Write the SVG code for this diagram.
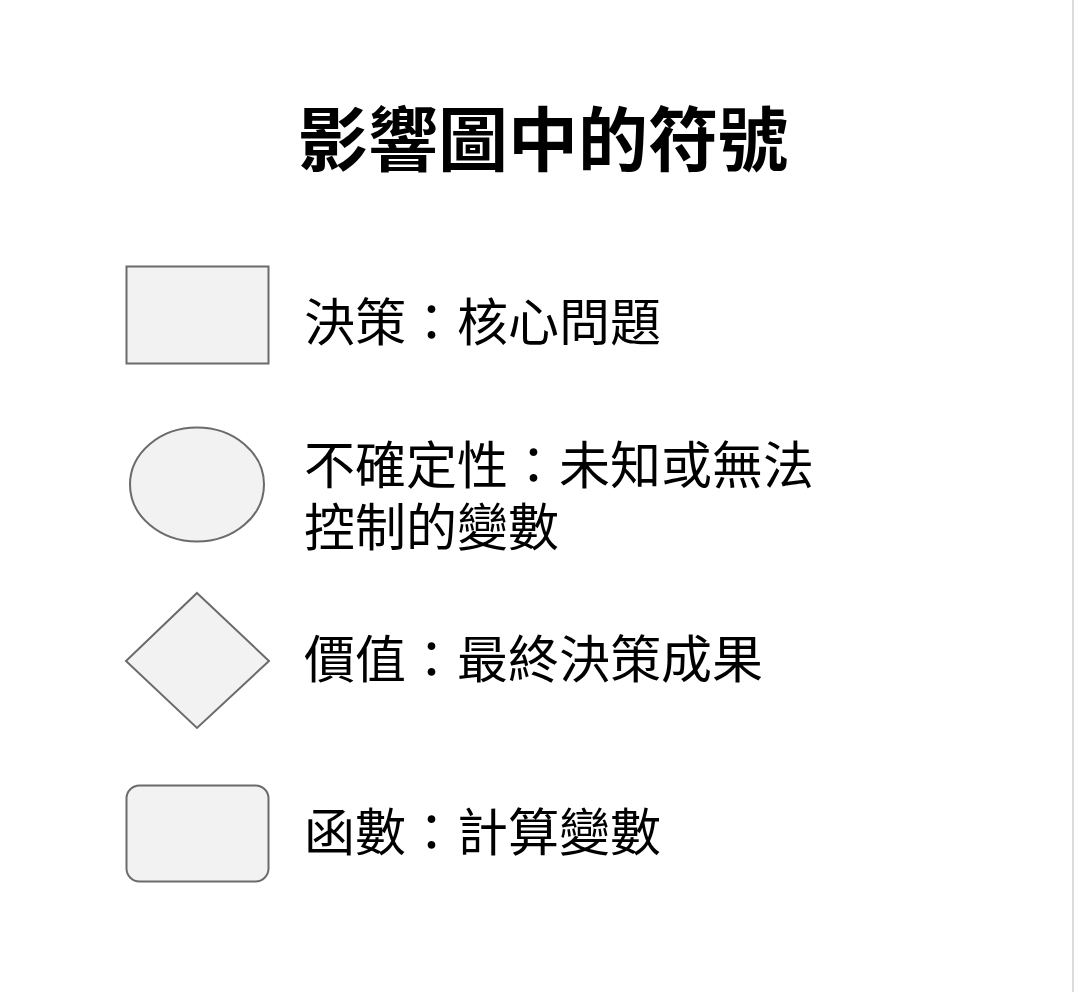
<svg xmlns="http://www.w3.org/2000/svg" width="1074" height="992" viewBox="0 0 1074 992">
  <style>
    .shape { fill: #f2f2f2; stroke: #6b6b6b; stroke-width: 2; }
    .label { font-family: "Noto Sans CJK TC", "Noto Sans CJK SC", sans-serif; font-size: 51px; fill: #000; }
    .title { font-family: "Noto Sans CJK TC", "Noto Sans CJK SC", sans-serif; font-size: 70px; font-weight: bold; fill: #000; }
  </style>
  <rect x="0" y="0" width="1074" height="992" fill="#ffffff"/>
  <line x1="1073" y1="0" x2="1073" y2="992" stroke="#dcdcdc" stroke-width="2"/>
  <g id="title">
    <text class="title" x="543" y="166" text-anchor="middle">影響圖中的符號</text>
  </g>
  <g id="decision">
    <rect class="shape" x="126.5" y="266.5" width="142" height="97"/>
    <text class="label" x="304" y="341">決策：核心問題</text>
  </g>
  <g id="uncertainty">
    <ellipse class="shape" cx="197" cy="484.5" rx="67" ry="57"/>
    <text class="label" x="304" y="484">不確定性：未知或無法<tspan x="304" y="546">控制的變數</tspan></text>
  </g>
  <g id="value">
    <polygon class="shape" points="197,593 269,661 197,728 126,661"/>
    <text class="label" x="304" y="678">價值：最終決策成果</text>
  </g>
  <g id="function">
    <rect class="shape" x="126.5" y="785.5" width="142" height="96" rx="13" ry="13"/>
    <text class="label" x="304" y="851">函數：計算變數</text>
  </g>
  <g id="connectors"></g>
</svg>
